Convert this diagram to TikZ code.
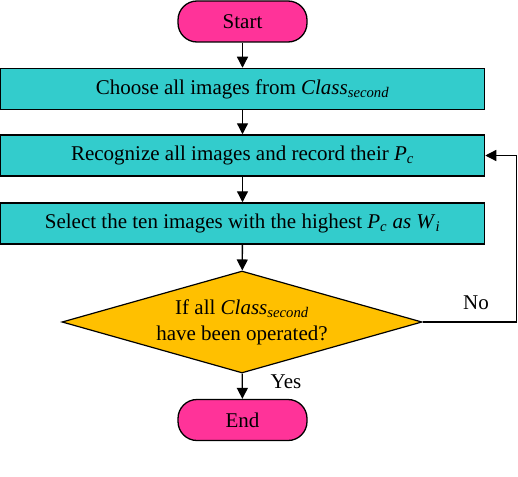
\documentclass[tikz,border=0pt]{standalone}
\usepackage{fontspec}
\setmainfont{Liberation Serif}
\usetikzlibrary{shapes.geometric,arrows.meta}
\definecolor{termpink}{HTML}{FF3399}
\definecolor{procteal}{HTML}{33CCCC}
\definecolor{decgold}{HTML}{FFC000}
\begin{document}
\begin{tikzpicture}[x=1pt,y=-1pt,font=\fontsize{21}{26}\selectfont,
  term/.style={draw,fill=termpink,rounded corners=19pt,minimum width=129pt,minimum height=41pt,inner sep=0pt,line width=1.3pt},
  proc/.style={draw,fill=procteal,minimum width=484pt,minimum height=41pt,inner sep=0pt,line width=1.5pt},
  dec/.style={draw,fill=decgold,diamond,aspect=3.53,minimum width=360pt,minimum height=102pt,inner sep=0pt,align=center,line width=1.2pt},
  arr/.style={-{Triangle[length=11pt,width=11pt]},line width=1.3pt},
  lbl/.style={inner sep=0pt}]
\useasboundingbox (0,0) rectangle (518,476);
\node[term] (start) at (242.5,21.5) {Start};
\node[proc] (b1) at (242.5,89) {Choose all images from \textit{Class}\textsubscript{\textit{second}}};
\node[proc] (b2) at (242.5,155.5) {Recognize all images and record their \textit{P}\textsubscript{\textit{c}}};
\node[proc] (b3) at (242.5,223.5) {Select the ten images with the highest \textit{P}\textsubscript{\textit{c}} \textit{as W}\textsubscript{\textit{i}}};
\node[dec] (d) at (242,322) {If all \textit{Class}\textsubscript{\textit{second}}\\have been operated?};
\node[term] (end) at (242.5,420) {End};
\coordinate (fb) at (516.5,322);
\draw[arr] (start) -- (b1);
\draw[arr] (b1) -- (b2);
\draw[arr] (b2) -- (b3);
\draw[arr] (b3) -- (d);
\draw[arr] (d) -- (end);
\draw[arr] (d.east) -- (fb) |- (b2.east);
\node[lbl] (no) at (476,303) {No};
\node[lbl] (yes) at (286,382) {Yes};
\end{tikzpicture}
\end{document}
